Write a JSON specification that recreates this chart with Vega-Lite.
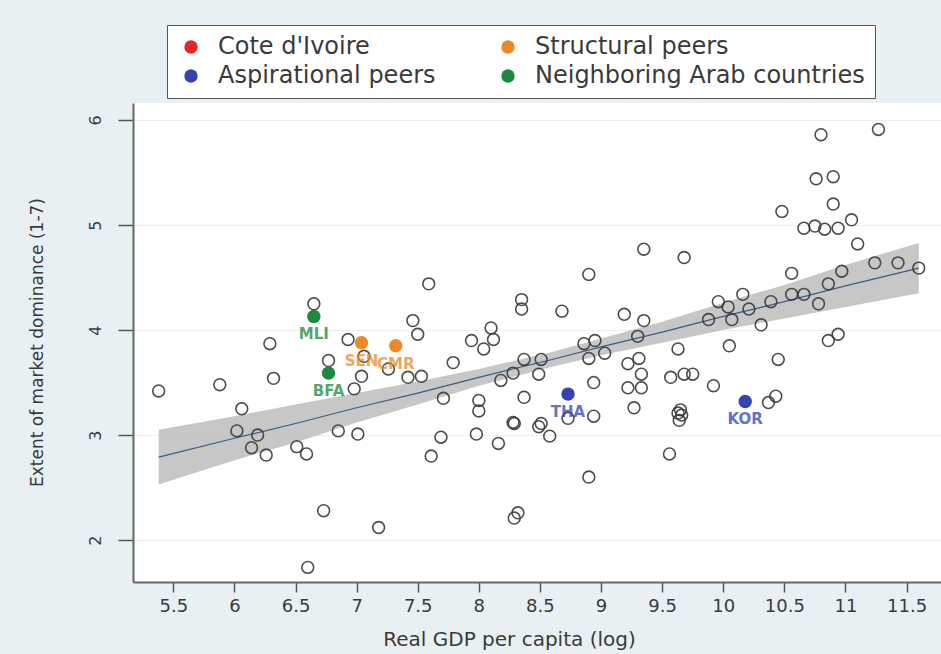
{
  "$schema": "https://vega.github.io/schema/vega-lite/v6.json",
  "width": 808,
  "height": 479,
  "autosize": {"type": "none"},
  "padding": {"left": 133, "top": 103, "right": 0, "bottom": 72},
  "background": "#e9f0f3",
  "config": {
    "font": "DejaVu Sans",
    "view": {"fill": "white", "stroke": null}
  },
  "datasets": {
    "pts": [
      {"gdp":5.38,"dom":3.42},{"gdp":5.88,"dom":3.48},{"gdp":6.06,"dom":3.25},{"gdp":6.02,"dom":3.04},{"gdp":6.19,"dom":3.0},{"gdp":6.14,"dom":2.88},{"gdp":6.26,"dom":2.81},{"gdp":6.29,"dom":3.87},{"gdp":6.32,"dom":3.54},{"gdp":6.51,"dom":2.89},{"gdp":6.59,"dom":2.82},{"gdp":6.6,"dom":1.74},{"gdp":6.65,"dom":4.25},{"gdp":6.77,"dom":3.71},{"gdp":6.98,"dom":3.44},{"gdp":6.73,"dom":2.28},{"gdp":6.85,"dom":3.04},{"gdp":7.01,"dom":3.01},{"gdp":6.93,"dom":3.91},{"gdp":7.06,"dom":3.75},{"gdp":7.04,"dom":3.56},{"gdp":7.26,"dom":3.63},{"gdp":7.42,"dom":3.55},{"gdp":7.53,"dom":3.56},{"gdp":7.79,"dom":3.69},{"gdp":7.59,"dom":4.44},{"gdp":7.46,"dom":4.09},{"gdp":7.5,"dom":3.96},{"gdp":7.18,"dom":2.12},{"gdp":7.71,"dom":3.35},{"gdp":7.69,"dom":2.98},{"gdp":7.61,"dom":2.8},{"gdp":8.0,"dom":3.33},{"gdp":8.0,"dom":3.23},{"gdp":7.98,"dom":3.01},{"gdp":8.16,"dom":2.92},{"gdp":8.28,"dom":3.12},{"gdp":8.32,"dom":2.26},{"gdp":8.29,"dom":2.21},{"gdp":7.94,"dom":3.9},{"gdp":8.1,"dom":4.02},{"gdp":8.12,"dom":3.91},{"gdp":8.04,"dom":3.82},{"gdp":8.35,"dom":4.29},{"gdp":8.35,"dom":4.2},{"gdp":8.68,"dom":4.18},{"gdp":8.9,"dom":4.53},{"gdp":9.35,"dom":4.77},{"gdp":9.68,"dom":4.69},{"gdp":9.19,"dom":4.15},{"gdp":9.35,"dom":4.09},{"gdp":9.3,"dom":3.94},{"gdp":9.63,"dom":3.82},{"gdp":8.86,"dom":3.87},{"gdp":8.95,"dom":3.9},{"gdp":8.9,"dom":3.73},{"gdp":9.03,"dom":3.78},{"gdp":8.37,"dom":3.72},{"gdp":8.51,"dom":3.72},{"gdp":8.18,"dom":3.52},{"gdp":8.28,"dom":3.59},{"gdp":8.49,"dom":3.58},{"gdp":8.37,"dom":3.36},{"gdp":8.94,"dom":3.5},{"gdp":8.94,"dom":3.18},{"gdp":8.73,"dom":3.16},{"gdp":8.29,"dom":3.11},{"gdp":8.51,"dom":3.11},{"gdp":9.22,"dom":3.68},{"gdp":9.31,"dom":3.73},{"gdp":9.33,"dom":3.58},{"gdp":9.22,"dom":3.45},{"gdp":9.33,"dom":3.45},{"gdp":9.27,"dom":3.26},{"gdp":9.57,"dom":3.55},{"gdp":9.68,"dom":3.58},{"gdp":9.75,"dom":3.58},{"gdp":9.63,"dom":3.21},{"gdp":9.66,"dom":3.19},{"gdp":9.65,"dom":3.24},{"gdp":9.64,"dom":3.14},{"gdp":9.92,"dom":3.47},{"gdp":10.45,"dom":3.72},{"gdp":10.43,"dom":3.37},{"gdp":10.37,"dom":3.31},{"gdp":8.49,"dom":3.08},{"gdp":8.58,"dom":2.99},{"gdp":9.56,"dom":2.82},{"gdp":8.9,"dom":2.6},{"gdp":10.8,"dom":5.86},{"gdp":11.27,"dom":5.91},{"gdp":10.76,"dom":5.44},{"gdp":10.9,"dom":5.46},{"gdp":10.9,"dom":5.2},{"gdp":10.48,"dom":5.13},{"gdp":10.66,"dom":4.97},{"gdp":10.75,"dom":4.99},{"gdp":10.83,"dom":4.96},{"gdp":10.94,"dom":4.97},{"gdp":11.05,"dom":5.05},{"gdp":11.1,"dom":4.82},{"gdp":11.24,"dom":4.64},{"gdp":11.43,"dom":4.64},{"gdp":11.6,"dom":4.59},{"gdp":10.97,"dom":4.56},{"gdp":10.56,"dom":4.54},{"gdp":10.86,"dom":4.44},{"gdp":10.66,"dom":4.34},{"gdp":10.56,"dom":4.34},{"gdp":10.39,"dom":4.27},{"gdp":10.78,"dom":4.25},{"gdp":10.16,"dom":4.34},{"gdp":9.96,"dom":4.27},{"gdp":10.04,"dom":4.22},{"gdp":9.88,"dom":4.1},{"gdp":10.07,"dom":4.1},{"gdp":10.21,"dom":4.2},{"gdp":10.31,"dom":4.05},{"gdp":10.05,"dom":3.85},{"gdp":10.86,"dom":3.9},{"gdp":10.94,"dom":3.96}
    ],
    "hl": [
      {"gdp":6.65,"dom":4.13,"code":"MLI","group":"Neighboring Arab countries"},
      {"gdp":6.77,"dom":3.59,"code":"BFA","group":"Neighboring Arab countries"},
      {"gdp":7.04,"dom":3.88,"code":"SEN","group":"Structural peers"},
      {"gdp":7.32,"dom":3.85,"code":"CMR","group":"Structural peers"},
      {"gdp":8.73,"dom":3.39,"code":"THA","group":"Aspirational peers"},
      {"gdp":10.18,"dom":3.32,"code":"KOR","group":"Aspirational peers"}
    ],
    "fit": [
      {"gdp":5.38,"fit":2.79,"lo":2.53,"hi":3.05},
      {"gdp":6.0,"fit":2.97,"lo":2.76,"hi":3.18},
      {"gdp":6.5,"fit":3.11,"lo":2.93,"hi":3.29},
      {"gdp":7.0,"fit":3.26,"lo":3.12,"hi":3.4},
      {"gdp":7.5,"fit":3.4,"lo":3.29,"hi":3.51},
      {"gdp":8.0,"fit":3.55,"lo":3.47,"hi":3.63},
      {"gdp":8.6,"fit":3.72,"lo":3.65,"hi":3.79},
      {"gdp":9.0,"fit":3.84,"lo":3.76,"hi":3.92},
      {"gdp":9.5,"fit":3.98,"lo":3.88,"hi":4.08},
      {"gdp":10.0,"fit":4.13,"lo":4.0,"hi":4.26},
      {"gdp":10.5,"fit":4.27,"lo":4.11,"hi":4.43},
      {"gdp":11.0,"fit":4.42,"lo":4.22,"hi":4.62},
      {"gdp":11.6,"fit":4.59,"lo":4.35,"hi":4.83}
    ]
  },
  "encoding": {
    "x": {
      "field": "gdp", "type": "quantitative",
      "scale": {"domain": [5.17, 11.782], "nice": false, "zero": false},
      "axis": {
        "title": "Real GDP per capita (log)",
        "values": [5.5,6,6.5,7,7.5,8,8.5,9,9.5,10,10.5,11,11.5],
        "format": "~g",
        "grid": false,
        "domainColor": "#666666", "domainWidth": 2,
        "tickColor": "#555555", "tickWidth": 1.5, "tickSize": 10,
        "labelFontSize": 18, "labelColor": "#3a3a3a", "labelPadding": 5,
        "labelFlush": false, "labelOverlap": false,
        "titleFontSize": 20, "titleFontWeight": "normal", "titleColor": "#3a3a3a",
        "titleX": 376, "titleY": 57, "titleBaseline": "middle", "titleAnchor": "middle"
      }
    },
    "y": {
      "field": "dom", "type": "quantitative",
      "scale": {"domain": [1.601, 6.162], "nice": false, "zero": false},
      "axis": {
        "title": "Extent of market dominance (1-7)",
        "values": [2,3,4,5,6],
        "grid": true, "gridColor": "#eaeff2", "gridWidth": 1,
        "domainColor": "#666666", "domainWidth": 2,
        "tickColor": "#555555", "tickWidth": 1.5, "tickSize": 15,
        "labelFontSize": 16, "labelColor": "#3a3a3a", "labelPadding": 15,
        "labelAngle": -90, "labelAlign": "center", "labelBaseline": "bottom",
        "titleFontSize": 17, "titleFontWeight": "normal", "titleColor": "#3a3a3a",
        "titleX": -96, "titleY": 239, "titleBaseline": "middle", "titleAngle": -90
      }
    }
  },
  "layer": [
    {
      "data": {"name": "fit"},
      "mark": {"type": "area", "color": "#b9b9b9", "opacity": 0.8},
      "encoding": {"y": {"field": "lo", "type": "quantitative"}, "y2": {"field": "hi"}}
    },
    {
      "data": {"name": "fit"},
      "mark": {"type": "line", "color": "#3d5c82", "strokeWidth": 1.2},
      "encoding": {"y": {"field": "fit", "type": "quantitative"}}
    },
    {
      "data": {"name": "pts"},
      "mark": {"type": "point", "shape": "circle", "filled": false, "stroke": "#3a3a3a", "strokeWidth": 1.6, "size": 140, "opacity": 0.9}
    },
    {
      "data": {"name": "hl"},
      "mark": {"type": "point", "shape": "circle", "filled": true, "size": 180, "opacity": 1},
      "encoding": {
        "color": {
          "field": "group", "type": "nominal",
          "scale": {
            "domain": ["Cote d'Ivoire", "Structural peers", "Aspirational peers", "Neighboring Arab countries"],
            "range": ["#e8262a", "#e98a26", "#3443b0", "#1b8a3c"]
          },
          "legend": {
            "title": null, "orient": "none", "legendX": 34, "legendY": -78,
            "columns": 2, "direction": "horizontal",
            "columnPadding": 58, "rowPadding": 5,
            "labelFontSize": 24, "labelColor": "#3a3a3a", "labelOffset": 15,
            "symbolType": "circle", "symbolSize": 180, "symbolStrokeWidth": 0, "symbolOffset": 2,
            "padding": 10, "strokeColor": "#555555", "fillColor": "white",
            "labelLimit": 500
          }
        }
      }
    },
    {
      "data": {"name": "hl"},
      "mark": {"type": "text", "dy": 18, "fontSize": 15, "fontWeight": "bold", "opacity": 0.75},
      "encoding": {
        "text": {"field": "code"},
        "color": {
          "field": "group", "type": "nominal",
          "scale": {
            "domain": ["Cote d'Ivoire", "Structural peers", "Aspirational peers", "Neighboring Arab countries"],
            "range": ["#e8262a", "#e98a26", "#3443b0", "#1b8a3c"]
          },
          "legend": null
        }
      }
    }
  ],
  "resolve": {"scale": {"color": "independent"}, "legend": {"color": "independent"}}
}
